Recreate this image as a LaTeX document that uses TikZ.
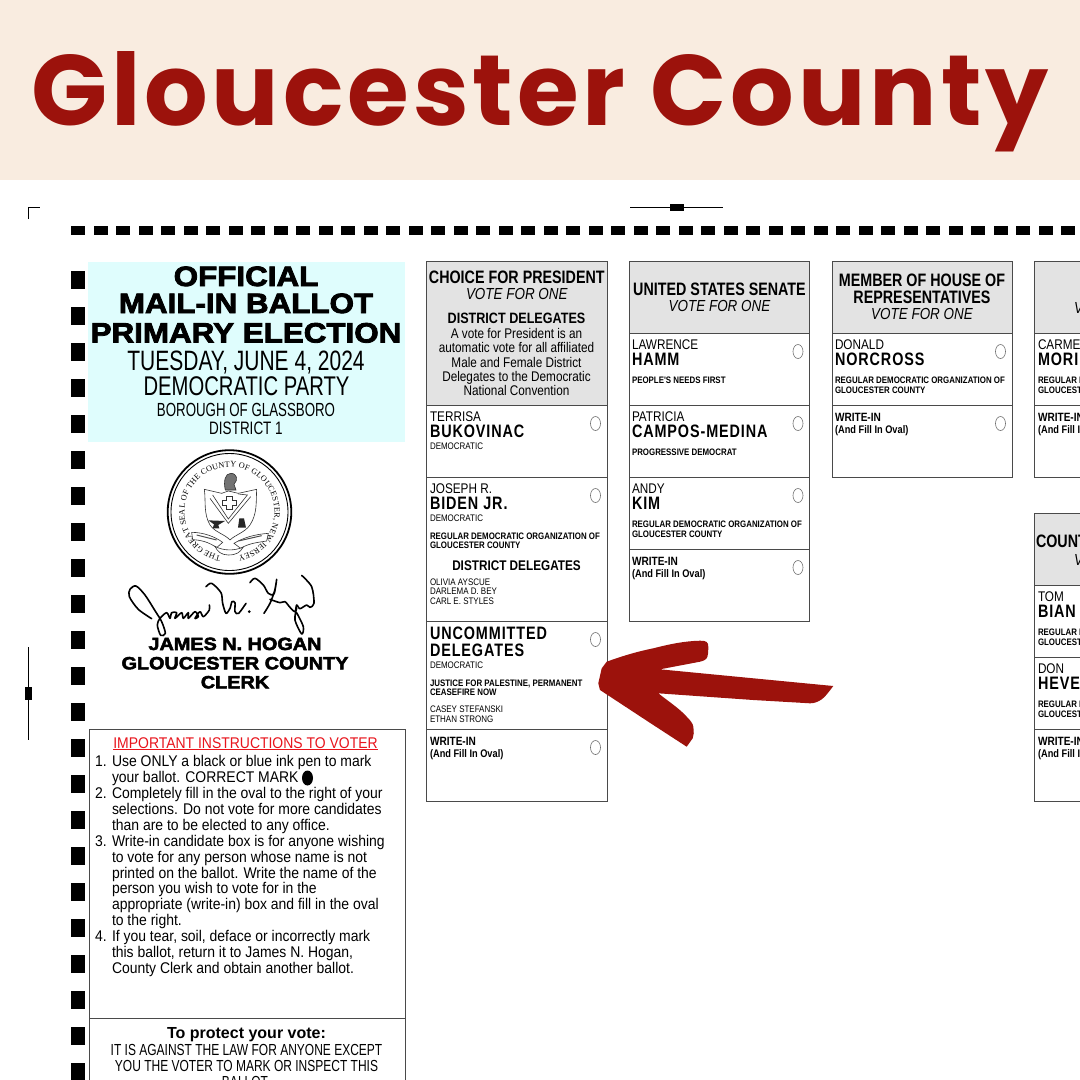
\documentclass[tikz,border=0pt]{standalone}
\usepackage{fontspec}
\usepackage{xcolor}
\usepackage{tikz}
\usetikzlibrary{decorations.text}
\setmainfont{Liberation Sans}
\newfontfamily\titlefont[LetterSpace=3.9]{Poppins}
\newfontfamily\bodyfont[FakeStretch=0.84]{Liberation Sans}
\newfontfamily\headfont[FakeStretch=0.795]{Liberation Sans}
\newfontfamily\stepfont[FakeStretch=0.9]{Liberation Sans}
\newfontfamily\lawfont[FakeStretch=0.75]{Liberation Sans}
\newfontfamily\tallfont[FakeStretch=0.70]{Liberation Sans}
\newfontfamily\namefont[FakeStretch=0.80,LetterSpace=5]{Liberation Sans}
\newfontfamily\heavyfont[FakeStretch=1.12,BoldFeatures={FakeBold=3}]{Liberation Sans}
\newfontfamily\sealfont{Liberation Serif}
\definecolor{bannerCream}{HTML}{F9ECE0}
\definecolor{titleRed}{HTML}{9C120C}
\definecolor{infoBlue}{HTML}{DFFDFD}
\definecolor{headGrey}{HTML}{E3E3E3}
\definecolor{lineGrey}{HTML}{4A4A4A}
\definecolor{warnRed}{HTML}{E8141C}
\tikzset{
  every node/.style={inner sep=0pt,outer sep=0pt,black},
  ballotLine/.style={draw=lineGrey,line width=0.9pt},
  ovalMark/.style={draw=lineGrey!80,line width=0.6pt},
  headTitle/.style={anchor=base,font=\headfont\bfseries\fontsize{18}{18}\selectfont},
  headVote/.style={anchor=base,font=\bodyfont\itshape\fontsize{16}{16}\selectfont},
  headMid/.style={anchor=base,font=\bodyfont\bfseries\fontsize{15}{15}\selectfont},
  headNote/.style={anchor=base,font=\bodyfont\fontsize{14}{14}\selectfont},
  firstName/.style={anchor=base west,font=\bodyfont\fontsize{14}{14}\selectfont},
  lastName/.style={anchor=base west,font=\namefont\bfseries\fontsize{18}{18}\selectfont},
  partyTag/.style={anchor=base west,font=\bodyfont\fontsize{9.5}{9.5}\selectfont},
  orgTag/.style={anchor=base west,font=\bodyfont\bfseries\fontsize{9.4}{9.4}\selectfont},
  writeTag/.style={anchor=base west,font=\bodyfont\bfseries\fontsize{12}{12}\selectfont},
  fillTag/.style={anchor=base west,font=\bodyfont\bfseries\fontsize{11}{11}\selectfont},
  heavyLine/.style={anchor=base,font=\heavyfont\bfseries\fontsize{28}{28}\selectfont},
  clerkLine/.style={anchor=base,font=\heavyfont\bfseries\fontsize{17.7}{17.7}\selectfont},
  stepText/.style={anchor=base west,font=\stepfont\fontsize{15.5}{15.5}\selectfont},
  lawLine/.style={anchor=base,font=\lawfont\fontsize{16}{16}\selectfont},
  sigStroke/.style={black,line width=1.6pt,line cap=round,line join=round},
  sealInk/.style={black!80,line width=0.6pt}
}
\begin{document}
\begin{tikzpicture}[x=1pt,y=-1pt]
\useasboundingbox (0,0) rectangle (1080,1080);
\clip (0,0) rectangle (1080,1080);
\fill[white] (0,0) rectangle (1080,1080);
\fill[bannerCream] (0,0) rectangle (1080,179.5);
\node[anchor=base west,titleRed,font=\titlefont\bfseries\fontsize{100}{100}\selectfont] (countyTitle) at (31,125) {Gloucester County};

% registration marks and timing track
\draw[black,line width=0.8pt] (28.5,219) -- (28.5,207.5) -- (40,207.5);
\draw[black,line width=0.8pt] (630,207.5) -- (723,207.5);
\fill[black] (670,204) rectangle (684,211);
\draw[black,line width=0.8pt] (28.5,647) -- (28.5,740);
\fill[black] (25,687) rectangle (32,700);
\foreach \i in {0,...,45}
  \fill[black] ({71+22.5*\i},226) rectangle ({85+22.5*\i},234.5);
\foreach \i in {0,...,22}
  \fill[black] (71,{271+36*\i}) rectangle (85,{289+36*\i});

% left panel
\fill[infoBlue] (88,262) rectangle (405,442);
\node[heavyLine] (official) at (246,286) {OFFICIAL};
\node[heavyLine] (mailIn) at (246,313) {MAIL-IN BALLOT};
\node[heavyLine] (primary) at (246,342.5) {PRIMARY ELECTION};
\node[anchor=base,font=\lawfont\fontsize{28}{28}\selectfont] (dateLine) at (246,370) {TUESDAY, JUNE 4, 2024};
\node[anchor=base,font=\lawfont\fontsize{27}{27}\selectfont] (partyLine) at (246.5,395) {DEMOCRATIC PARTY};
\node[anchor=base,font=\tallfont\fontsize{19}{19}\selectfont] (boroughLine) at (246,416) {BOROUGH OF GLASSBORO};
\node[anchor=base,font=\lawfont\fontsize{18}{18}\selectfont] (districtLine) at (246,434.5) {DISTRICT 1};

% county seal
\draw[black,line width=1.8pt] (229.5,512) circle (61.8);
\draw[black,line width=0.9pt] (229.5,512) circle (58.5);
\path[decorate,decoration={text along path,text align={fit to path},
  text={|\sealfont\fontsize{8.2}{8.2}\selectfont|THE GREAT SEAL OF THE COUNTY OF GLOUCESTER, NEW JERSEY}}]
  plot[domain=101:439,samples=120,variable=\t] ({229.5+45*cos(\t)},{512+45*sin(\t)});
\begin{scope}[shift={(160,445)},x=0.3333pt,y=-0.3333pt]
\draw[sealInk,fill=white] (133,133) -- (185,145) -- (205,138) -- (235,145) -- (290,133)
  .. controls (288,175) and (292,205) .. (270,240) .. controls (255,262) and (225,270) .. (210,285)
  .. controls (195,268) and (165,262) .. (150,240) .. controls (130,205) and (138,170) .. (133,133) -- cycle;
\draw[sealInk] (158,150) -- (205,222) -- (262,150) -- (235,147);
\draw[sealInk] (150,160) -- (205,235) -- (272,155);
\draw[sealInk] (200,155) -- (216,155) -- (216,166) -- (228,166) -- (228,180) -- (216,180) -- (216,194)
  -- (200,194) -- (200,180) -- (188,180) -- (188,166) -- (200,166) -- cycle;
\draw[sealInk,fill=black!55] (196,135) .. controls (190,110) and (195,85) .. (212,85)
  .. controls (232,85) and (235,105) .. (222,118) -- (228,135) -- cycle;
\fill[black!85] (145,226) -- (195,228) -- (175,240) -- (178,250) -- (158,250) -- (162,238) -- cycle;
\fill[black!85] (238,220) -- (252,220) -- (258,248) -- (234,248) -- cycle;
\draw[sealInk,fill=white] (95,262) .. controls (130,262) and (165,275) .. (188,292)
  -- (170,308) .. controls (145,290) and (120,285) .. (98,284) -- cycle;
\draw[sealInk,fill=white] (325,265) .. controls (285,268) and (250,278) .. (222,295)
  -- (242,310) .. controls (265,295) and (295,292) .. (320,288) -- cycle;
\draw[sealInk,fill=white] (165,304) .. controls (190,318) and (225,318) .. (250,306)
  .. controls (240,322) and (230,330) .. (205,330) .. controls (185,330) and (172,320) .. (165,304) -- cycle;
\draw[black!70,line width=1pt] (110,270) -- (170,285);
\draw[black!70,line width=1pt] (235,288) -- (305,272);
\end{scope}

% signature
\begin{scope}[shift={(120,570)},x=0.3333pt,y=-0.3333pt]
\draw[sigStroke] plot[smooth] coordinates {(95,146) (55,118) (28,80) (30,58) (48,48) (75,75) (105,122) (125,155) (136,190) (122,196) (112,165) (120,145) (140,128) (150,145) (155,128) (170,128) (165,145) (185,128) (190,145) (205,128) (205,145) (225,125) (235,140) (225,145) (240,125) (250,140) (268,120) (268,105)};
\draw[sigStroke] plot[smooth] coordinates {(258,50) (275,40) (303,68) (308,100) (318,130) (330,115) (336,95) (345,98) (345,125) (356,130) (378,100)};
\fill[black] (388,125) circle (1.5pt);
\draw[sigStroke] plot[smooth] coordinates {(390,38) (405,25) (430,45) (445,70) (462,72) (470,28) (464,62) (450,100) (432,130)};
\draw[sigStroke] plot[smooth] coordinates {(450,88) (480,98) (495,95) (510,112) (525,125) (530,105) (540,116) (560,105) (570,112) (582,100) (575,50) (545,16)};
\draw[sigStroke] plot[smooth] coordinates {(530,115) (525,150) (545,192) (550,170) (530,128)};
\end{scope}
\node[clerkLine] (clerkName) at (235,650) {JAMES N. HOGAN};
\node[clerkLine] (clerkCounty) at (235,669.3) {GLOUCESTER COUNTY};
\node[clerkLine] (clerkTitle) at (235,688.3) {CLERK};

% instructions
\draw[ballotLine] (89,1090) -- (89,729.5) -- (405,729.5) -- (405,1090);
\draw[ballotLine] (89,1018) -- (405,1018);
\node[anchor=base,warnRed,font=\stepfont\fontsize{15.5}{15.5}\selectfont] (warnTitle) at (245.5,748) {IMPORTANT INSTRUCTIONS TO VOTER};
\draw[warnRed,line width=0.8pt] (warnTitle.base west)++(0,1.6) -- ++(265,0);
\foreach \i/\txt in {0/Use ONLY a black or blue ink pen to mark,1/your ballot. CORRECT MARK,2/Completely fill in the oval to the right of your,3/selections. Do not vote for more candidates,4/than are to be elected to any office.,5/Write-in candidate box is for anyone wishing,6/to vote for any person whose name is not,7/printed on the ballot. Write the name of the,8/person you wish to vote for in the,9/appropriate (write-in) box and fill in the oval,10/to the right.,11/If you tear{,} soil{,} deface or incorrectly mark,12/this ballot{,} return it to James N. Hogan{,},13/County Clerk and obtain another ballot.}
  \node[stepText] (stepLine\i) at (112,{766.7+15.9*\i}) {\txt};
\node[stepText] (stepOne) at (95,766.7) {1.};
\node[stepText] (stepTwo) at (95,798.5) {2.};
\node[stepText] (stepThree) at (95,846.2) {3.};
\node[stepText] (stepFour) at (95,941.6) {4.};
\fill[black] (307.5,778) circle[x radius=5.5pt,y radius=7.5pt];
\node[anchor=base,font=\bfseries\fontsize{16}{16}\selectfont] (protectHead) at (246.5,1038.3) {To protect your vote:};
\node[lawLine] (lawOne) at (246.5,1055) {IT IS AGAINST THE LAW FOR ANYONE EXCEPT};
\node[lawLine] (lawTwo) at (246.5,1071) {YOU THE VOTER TO MARK OR INSPECT THIS};
\node[lawLine] (lawThree) at (245,1087) {BALLOT};

% contest boxes
\fill[headGrey] (426.5,261.5) rectangle (607,405.5);
\fill[headGrey] (629,261.5) rectangle (809.5,333.5);
\fill[headGrey] (832,261.5) rectangle (1012.5,333.5);
\fill[headGrey] (1034.5,261.5) rectangle (1090,333.5);
\fill[headGrey] (1034.5,513.5) rectangle (1090,585.5);
\foreach \xa/\xb/\ya/\yb in {426.5/607/261.5/801.5,629/809.5/261.5/621.5,832/1012.5/261.5/477.5,1034.5/1090/261.5/477.5,1034.5/1090/513.5/801.5}
  \draw[ballotLine] (\xa,\ya) rectangle (\xb,\yb);
\foreach \xa/\xb/\yy in {426.5/607/405.5,426.5/607/477.5,426.5/607/621.5,426.5/607/729.5,629/809.5/333.5,629/809.5/405.5,629/809.5/477.5,629/809.5/549.5,832/1012.5/333.5,832/1012.5/405.5,1034.5/1090/333.5,1034.5/1090/405.5,1034.5/1090/585.5,1034.5/1090/657.5,1034.5/1090/729.5}
  \draw[ballotLine] (\xa,\yy) -- (\xb,\yy);
\foreach \ox/\oy in {595.5/423.5,595.5/495.5,595.5/639.5,595.5/747.5,798/351.5,798/423.5,798/495.5,798/567.5,1000.5/351.5,1000.5/423.5}
  \draw[ovalMark] (\ox,\oy) circle[x radius=5pt,y radius=7pt];

% president
\node[headTitle] (presTitle) at (516.8,283.5) {CHOICE FOR PRESIDENT};
\node[headVote] (presVote) at (516.8,299) {VOTE FOR ONE};
\node[headMid] (presDelegates) at (516.5,323) {DISTRICT DELEGATES};
\node[headNote] (presNoteA) at (516.5,338) {A vote for President is an};
\node[headNote] (presNoteB) at (516.5,352.5) {automatic vote for all affiliated};
\node[headNote] (presNoteC) at (516.5,367) {Male and Female District};
\node[headNote] (presNoteD) at (516.5,381) {Delegates to the Democratic};
\node[headNote] (presNoteE) at (516.5,395.5) {National Convention};
\node[firstName] (bukovinacFirst) at (430,421.5) {TERRISA};
\node[lastName] (bukovinacLast) at (430,437) {BUKOVINAC};
\node[partyTag] (bukovinacParty) at (430,449.2) {DEMOCRATIC};
\node[firstName] (bidenFirst) at (430,493.5) {JOSEPH R.};
\node[lastName] (bidenLast) at (430,509) {BIDEN JR.};
\node[partyTag] (bidenParty) at (430,521.2) {DEMOCRATIC};
\node[orgTag] (bidenOrgA) at (430,539) {REGULAR DEMOCRATIC ORGANIZATION OF};
\node[orgTag] (bidenOrgB) at (430,548.5) {GLOUCESTER COUNTY};
\node[anchor=base,font=\bodyfont\bfseries\fontsize{14}{14}\selectfont] (bidenDelegates) at (516.5,570) {DISTRICT DELEGATES};
\node[partyTag] (bidenRosterA) at (430,585) {OLIVIA AYSCUE};
\node[partyTag] (bidenRosterB) at (430,594.5) {DARLEMA D. BEY};
\node[partyTag] (bidenRosterC) at (430,604) {CARL E. STYLES};
\node[lastName] (uncommittedA) at (430,639) {UNCOMMITTED};
\node[lastName] (uncommittedB) at (430,656) {DELEGATES};
\node[partyTag] (uncommittedParty) at (430,668.3) {DEMOCRATIC};
\node[orgTag] (uncommittedOrgA) at (430,686) {JUSTICE FOR PALESTINE, PERMANENT};
\node[orgTag] (uncommittedOrgB) at (430,695.3) {CEASEFIRE NOW};
\node[partyTag] (uncommittedRosterA) at (430,712.7) {CASEY STEFANSKI};
\node[partyTag] (uncommittedRosterB) at (430,722.3) {ETHAN STRONG};
\node[writeTag] (presWrite) at (430,745.7) {WRITE-IN};
\node[fillTag] (presFill) at (430,757.3) {(And Fill In Oval)};

% senate
\node[headTitle] (senateTitle) at (719.5,295) {UNITED STATES SENATE};
\node[headVote] (senateVote) at (719.5,311) {VOTE FOR ONE};
\node[firstName] (hammFirst) at (632,349.5) {LAWRENCE};
\node[lastName] (hammLast) at (632,365) {HAMM};
\node[orgTag] (hammOrg) at (632,383.5) {PEOPLE'S NEEDS FIRST};
\node[firstName] (camposFirst) at (632,421.5) {PATRICIA};
\node[lastName] (camposLast) at (632,437) {CAMPOS-MEDINA};
\node[orgTag] (camposOrg) at (632,455.7) {PROGRESSIVE DEMOCRAT};
\node[firstName] (kimFirst) at (632,493.5) {ANDY};
\node[lastName] (kimLast) at (632,509) {KIM};
\node[orgTag] (kimOrgA) at (632,527.7) {REGULAR DEMOCRATIC ORGANIZATION OF};
\node[orgTag] (kimOrgB) at (632,537) {GLOUCESTER COUNTY};
\node[writeTag] (senateWrite) at (632,565.7) {WRITE-IN};
\node[fillTag] (senateFill) at (632,577) {(And Fill In Oval)};

% house
\node[headTitle] (houseTitleA) at (922,286.5) {MEMBER OF HOUSE OF};
\node[headTitle] (houseTitleB) at (922,303.5) {REPRESENTATIVES};
\node[headVote] (houseVote) at (922,319.5) {VOTE FOR ONE};
\node[firstName] (norcrossFirst) at (835,349.5) {DONALD};
\node[lastName] (norcrossLast) at (835,365) {NORCROSS};
\node[orgTag] (norcrossOrgA) at (835,383.5) {REGULAR DEMOCRATIC ORGANIZATION OF};
\node[orgTag] (norcrossOrgB) at (835,393) {GLOUCESTER COUNTY};
\node[writeTag] (houseWrite) at (835,421.5) {WRITE-IN};
\node[fillTag] (houseFill) at (835,433) {(And Fill In Oval)};

% columns running off the page
\node[headVote] (fourthVote) at (1125,313) {VOTE FOR ONE};
\node[firstName] (fourthFirst) at (1038,349.5) {CARME};
\node[lastName] (fourthLast) at (1038,365) {MORI};
\node[orgTag] (fourthOrgA) at (1038,383.5) {REGULAR DEMOCRATIC ORGANIZATION OF};
\node[orgTag] (fourthOrgB) at (1038,393) {GLOUCESTER COUNTY};
\node[writeTag] (fourthWrite) at (1038,421.5) {WRITE-IN};
\node[fillTag] (fourthFill) at (1038,433) {(And Fill In Oval)};
\node[anchor=base west,font=\headfont\bfseries\fontsize{18}{18}\selectfont] (lowerTitle) at (1036,547.5) {COUNT};
\node[headVote] (lowerVote) at (1125,565) {VOTE FOR ONE};
\node[firstName] (bianFirst) at (1038,601.5) {TOM};
\node[lastName] (bianLast) at (1038,617) {BIAN};
\node[orgTag] (bianOrgA) at (1038,635.5) {REGULAR DEMOCRATIC ORGANIZATION OF};
\node[orgTag] (bianOrgB) at (1038,645) {GLOUCESTER COUNTY};
\node[firstName] (heveFirst) at (1038,673.5) {DON};
\node[lastName] (heveLast) at (1038,689) {HEVE};
\node[orgTag] (heveOrgA) at (1038,707.5) {REGULAR DEMOCRATIC ORGANIZATION OF};
\node[orgTag] (heveOrgB) at (1038,717) {GLOUCESTER COUNTY};
\node[writeTag] (lowerWrite) at (1038,745.7) {WRITE-IN};
\node[fillTag] (lowerFill) at (1038,757.3) {(And Fill In Oval)};

% hand drawn arrow
\fill[titleRed] (606.7,661.7) .. controls (625,655) and (640,651) .. (653.3,648.3)
  .. controls (670,644) and (685,641) .. (700,640.7) .. controls (706,640.5) and (708.5,642) .. (708.3,646.7)
  .. controls (708.3,652) and (708,656) .. (706.7,658.3) .. controls (704,661) and (702,661) .. (700,661.7)
  -- (660,669.3) -- (753.3,678.3) -- (833.3,686) .. controls (828,693) and (825,697) .. (821.7,699.3)
  .. controls (818,702) and (814,703.3) .. (810,703.3) -- (753.3,700) -- (658.3,693.3)
  .. controls (668,701) and (680,709) .. (686.7,716.7) .. controls (691,721) and (693,724) .. (693.3,726.7)
  .. controls (694,732) and (694,735) .. (692.7,738.3) -- (686.7,746.7) -- (653.3,725) -- (600,690)
  -- (598.3,683.3) -- (601.7,668.3) -- cycle;
\end{tikzpicture}
\end{document}
